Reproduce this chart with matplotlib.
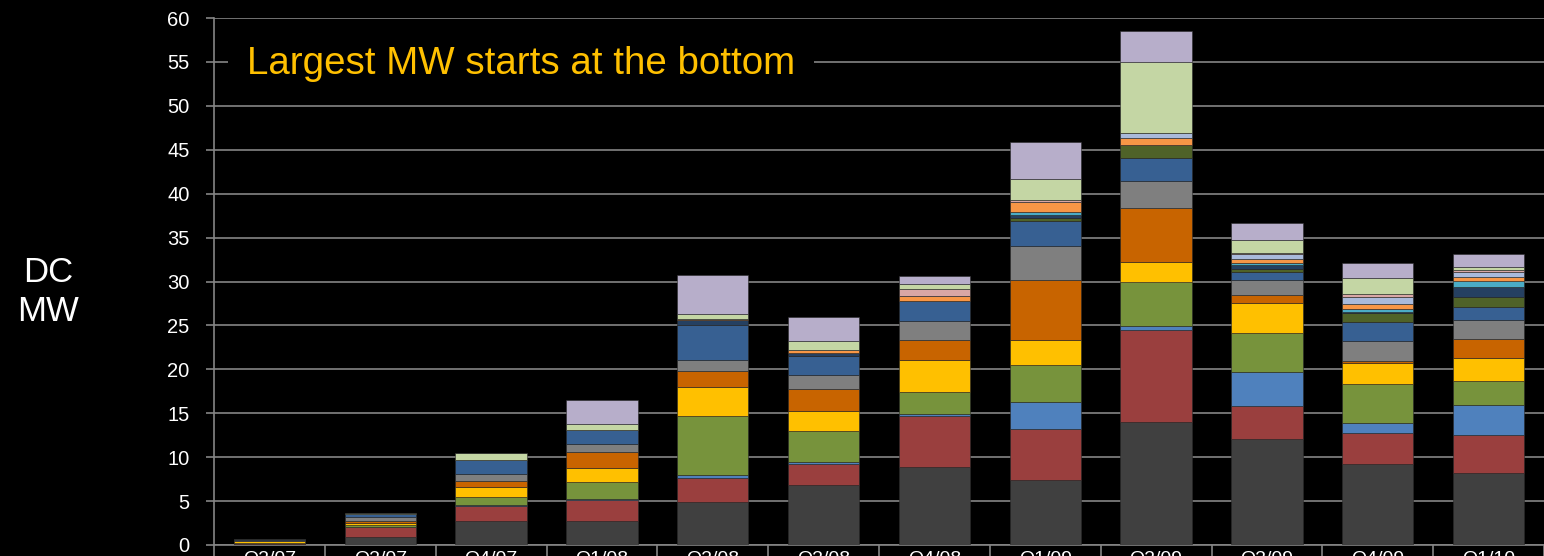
import matplotlib
matplotlib.use("Agg")
import matplotlib.pyplot as plt
import numpy as np

categories = ["Q2/07", "Q3/07", "Q4/07", "Q1/08", "Q2/08", "Q3/08",
              "Q4/08", "Q1/09", "Q2/09", "Q3/09", "Q4/09", "Q1/10"]

# stacked series, bottom -> top
dark_gray   = [0.10, 0.95, 2.74, 2.78, 4.93, 6.87, 8.90, 7.40, 13.95, 12.09, 9.22, 8.17]
red         = [0.10, 1.05, 1.71, 2.40, 2.75, 2.35, 5.74, 5.82, 10.51, 3.68, 3.52, 4.37]
blue        = [0.00, 0.05, 0.10, 0.11, 0.28, 0.20, 0.24, 3.03, 0.49, 3.96, 1.13, 3.44]
green       = [0.05, 0.25, 0.90, 1.90, 6.67, 3.52, 2.55, 4.25, 4.97, 4.45, 4.41, 2.67]
yellow      = [0.20, 0.20, 1.20, 1.63, 3.40, 2.30, 3.64, 2.83, 2.30, 3.32, 2.43, 2.59]
dark_orange = [0.05, 0.25, 0.65, 1.75, 1.78, 2.55, 2.26, 6.79, 6.15, 1.01, 0.24, 2.26]
gray        = [0.10, 0.40, 0.84, 0.91, 1.25, 1.54, 2.22, 3.96, 3.03, 1.62, 2.30, 2.10]
steel_blue  = [0.10, 0.35, 1.56, 1.60, 4.00, 2.22, 2.22, 2.83, 2.67, 0.97, 2.14, 1.46]
dark_olive  = [0.00, 0.00, 0.00, 0.00, 0.00, 0.00, 0.00, 0.28, 1.42, 0.36, 0.97, 1.13]
navy        = [0.00, 0.00, 0.00, 0.00, 0.60, 0.32, 0.00, 0.36, 0.05, 0.44, 0.12, 1.13]
teal        = [0.00, 0.00, 0.00, 0.00, 0.00, 0.00, 0.00, 0.32, 0.00, 0.24, 0.44, 0.73]
orange      = [0.00, 0.00, 0.00, 0.00, 0.05, 0.28, 0.60, 1.21, 0.81, 0.44, 0.53, 0.49]
light_blue  = [0.00, 0.00, 0.00, 0.00, 0.00, 0.00, 0.00, 0.00, 0.53, 0.53, 0.77, 0.49]
pink        = [0.00, 0.00, 0.00, 0.00, 0.05, 0.05, 0.73, 0.20, 0.00, 0.16, 0.36, 0.32]
light_green = [0.00, 0.15, 0.76, 0.68, 0.50, 0.97, 0.60, 2.39, 8.09, 1.46, 1.82, 0.32]
lavender    = [0.00, 0.00, 0.00, 2.74, 4.50, 2.79, 0.93, 4.25, 3.60, 1.98, 1.70, 1.46]

series = [dark_gray, red, blue, green, yellow, dark_orange, gray, steel_blue,
          dark_olive, navy, teal, orange, light_blue, pink, light_green, lavender]
colors = ["#404040", "#9A3F3E", "#4F81BD", "#77933C", "#FFC000", "#C86400",
          "#7F7F7F", "#376092", "#4F6228", "#254061", "#4BACC6", "#F79646",
          "#A9BADB", "#D9A7A5", "#C4D6A4", "#B7AECA"]

y_ticks = list(range(0, 61, 5))
title_text = "Largest MW starts at the bottom"
ylabel_text = "DC\nMW"

plt.rcParams["font.family"] = ["Liberation Sans", "DejaVu Sans"]

fig = plt.figure(figsize=(15.44, 5.56), dpi=100, facecolor="black")
ax = fig.add_axes([214/1544, 11/556, 1 - 214/1544, (545 - 18)/556])
ax.set_facecolor("black")

x = np.arange(len(categories))
bottom = np.zeros(len(categories))
for vals, c in zip(series, colors):
    v = np.array(vals)
    ax.bar(x, v, bottom=bottom, width=0.645, color=c, edgecolor="#2a2a2a",
           linewidth=0.4, zorder=3)
    bottom += v

ax.set_xlim(-0.5, len(categories) - 0.5)
ax.set_ylim(0, 60)
ax.set_yticks(y_ticks)
ax.set_yticklabels([str(t) for t in y_ticks])
ax.yaxis.grid(True, color="#858585", linewidth=1.2, zorder=0)
ax.set_axisbelow(True)

ax.set_xticks(x)
ax.set_xticklabels(categories)
ax.set_xticks(np.arange(-0.5, len(categories)), minor=True)
ax.tick_params(axis="x", which="major", length=0, pad=4, labelsize=14, colors="white")
ax.tick_params(axis="x", which="minor", length=14, width=1.2, color="#858585")
ax.tick_params(axis="y", length=5.5, width=1.2, color="#858585", pad=12,
               labelsize=14.5, labelcolor="white")

for s in ["top", "right"]:
    ax.spines[s].set_visible(False)
for s in ["left", "bottom"]:
    ax.spines[s].set_color("#858585")
    ax.spines[s].set_linewidth(1.2)

fig.text(247/1544, 1 - 64/556, title_text, color="#FFC000", fontsize=27.7,
         ha="left", va="center", zorder=10,
         bbox=dict(boxstyle="square,pad=0.5", facecolor="black", edgecolor="none"))

fig.text(48/1544, 1 - 292/556, ylabel_text, color="white", fontsize=25,
         ha="center", va="center", linespacing=1.2)

fig.savefig("out.png", dpi=100, facecolor="black")
